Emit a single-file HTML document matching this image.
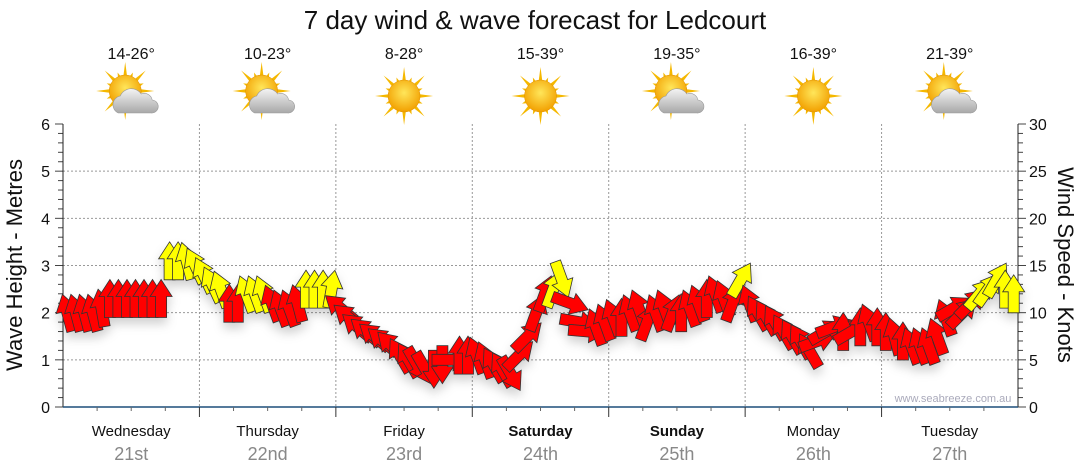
<!DOCTYPE html>
<html><head><meta charset="utf-8"><style>
body{margin:0;background:#fff;}
svg{display:block;font-family:"Liberation Sans","DejaVu Sans",sans-serif;}
</style></head><body>
<svg id="chart" width="1080" height="475" viewBox="0 0 1080 475">
<defs>
<filter id="sh" x="-20%" y="-20%" width="140%" height="160%"><feDropShadow dx="0" dy="6" stdDeviation="5" flood-color="#000" flood-opacity="0.18"/></filter>
<radialGradient id="sun" cx="50%" cy="40%" r="60%"><stop offset="0" stop-color="#ffe65a"/><stop offset="1" stop-color="#f2a000"/></radialGradient>
<linearGradient id="cloud" x1="0" y1="0" x2="0" y2="1"><stop offset="0" stop-color="#f4f4f4"/><stop offset="1" stop-color="#a8a8a8"/></linearGradient>
</defs>
<text x="535" y="29" text-anchor="middle" font-size="26" fill="#111">7 day wind &amp; wave forecast for Ledcourt</text>
<g id="grid"></g>
<g id="axes"></g>
<g id="days"></g>
<g id="arrows" filter="url(#sh)"></g>
<text x="953" y="402" text-anchor="middle" font-size="11" fill="#aab">www.seabreeze.com.au</text>
<text transform="translate(22,265) rotate(-90)" text-anchor="middle" font-size="22" fill="#111">Wave Height - Metres</text>
<text transform="translate(1058,265) rotate(90)" text-anchor="middle" font-size="22" fill="#111">Wind Speed - Knots</text>
</svg>
<script>
const dayNames=["Wednesday","Thursday","Friday","Saturday","Sunday","Monday","Tuesday"];
const dayDates=["21st","22nd","23rd","24th","25th","26th","27th"];
const dayBold=[false,false,false,true,true,false,false];
const temps=["14-26°","10-23°","8-28°","15-39°","19-35°","16-39°","21-39°"];
const cloudy=[true,true,false,false,true,false,true];
const waveTicks=[0,1,2,3,4,5,6];
const windTicks=[0,5,10,15,20,25,30];
const windSpeed=[
10,10,10,10,10.5,11.5,11.5,11.5,11.5,11.5,11.5,11.5,15.5,15.5,15.5,15,
14,13,12.5,11,11,12,12,12,11,10.5,10.5,11,12.5,12.5,12.5,12.5,
10.5,9.5,8.5,8,7.5,7,6.5,5.5,5,4.5,4,4,4.5,5,5.5,5.5,
5.5,5,4.5,4,3.5,5.5,7.5,10,12,12.5,13.5,11,9,8,8.5,9,
9.5,9.5,10,10.5,9,10,10.5,10,10,10.5,11,11.5,12,11.5,11,13.5,
11,10,9.5,9,8,7.5,7,6,7,8,8.5,8,8,8.5,9,8.5,
8,7.5,7,6.5,6.5,6.5,7.5,9.5,10.5,10,11,12,12.5,13.5,12.5,12];
const windDir=[
-15,-15,-15,-15,-10,0,0,0,0,0,0,0,0,0,-15,-25,
-25,-25,-20,0,0,-20,-20,-20,-20,-20,-20,-15,0,0,0,10,
-50,-50,-50,-50,-50,-50,-45,-30,-30,150,150,180,180,90,0,0,
-20,-20,-30,-30,150,45,45,20,20,20,160,110,100,95,-20,-20,
-20,0,-20,-20,20,-20,-20,20,0,-20,-20,0,-20,-20,20,30,
-20,-30,-30,-30,-30,-30,-30,-30,70,60,70,0,60,0,-20,0,
0,-15,0,-20,-20,-20,-20,-20,60,45,45,40,35,30,0,0];
const windCol=[
"r","r","r","r","r","r","r","r","r","r","r","r","y","y","y","y",
"y","y","y","r","r","y","y","y","r","r","r","r","y","y","y","y",
"r","r","r","r","r","r","r","r","r","r","r","r","r","r","r","r",
"r","r","r","r","r","r","r","r","r","y","y","r","r","r","r","r",
"r","r","r","r","r","r","r","r","r","r","r","r","r","r","r","y",
"r","r","r","r","r","r","r","r","r","r","r","r","r","r","r","r",
"r","r","r","r","r","r","r","r","r","r","r","y","y","y","y","y"];

const NS="http://www.w3.org/2000/svg";
const X0=63,X1=1018,Y0=407,Y1=124;
const dayW=(X1-X0)/7;
const yWave=v=>Y0-(Y0-Y1)*v/6;
const yWind=v=>Y0-(Y0-Y1)*v/30;
const xSlot=i=>X0+dayW/16*(i+0.5);
function mk(tag,attrs,parent){const e=document.createElementNS(NS,tag);for(const k in attrs)e.setAttribute(k,attrs[k]);parent.appendChild(e);return e;}
const grid=document.getElementById('grid'),axes=document.getElementById('axes'),days=document.getElementById('days'),arr=document.getElementById('arrows');

waveTicks.forEach(v=>{
 if(v>0&&v<6){const l=mk('line',{x1:X0,x2:X1,y1:yWave(v),y2:yWave(v),stroke:'#999','stroke-dasharray':'2,2','stroke-width':1},grid);
 
 }
 const t=mk('text',{x:50,y:yWave(v)+6,'text-anchor':'end','font-size':16,fill:'#111'},axes);t.textContent=v;
 
 
});
windTicks.forEach(v=>{
 const t=mk('text',{x:1029,y:yWind(v)+6,'font-size':16,fill:'#111'},axes);t.textContent=v;
 
 
});
for(let k=0;k<=30;k++){
 const y=Y0-(Y0-Y1)*k/30;const L=(k%5==0)?8:5;
 mk('line',{x1:X0-L,x2:X0,y1:y,y2:y,stroke:'#444'},axes);
 mk('line',{x1:X1,x2:X1+L,y1:y,y2:y,stroke:'#444'},axes);
}
mk('line',{x1:X0,x2:X0,y1:Y1,y2:Y0,stroke:'#222'},axes);
mk('line',{x1:X1,x2:X1,y1:Y1,y2:Y0,stroke:'#222'},axes);
mk('line',{x1:X0,x2:X1,y1:Y0,y2:Y0,stroke:'#1d4f7a','stroke-width':1.5},axes);
for(let k=1;k<7;k++){
 const x=X0+dayW*k;
 const g=mk('line',{x1:x,x2:x,y1:Y1,y2:Y0,stroke:'#999','stroke-dasharray':'2,2'},grid);
 
 
 mk('line',{x1:x,x2:x,y1:Y0,y2:Y0+10,stroke:'#333'},axes);
}
for(let k=0;k<28;k++){const x=X0+dayW/4*k;if(k%4)mk('line',{x1:x,x2:x,y1:Y0,y2:Y0+4,stroke:'#666'},axes);}

function icon(cx,cy,cl,p){
 const g=mk('g',{},p);
 const sx=cl?cx-6:cx, sy=cl?cy-5:cy;
 for(let a=0;a<16;a++){const r=a%2?20:29;const ang=a*Math.PI/8;
  const w=0.14;
  mk('polygon',{points:`${sx+Math.cos(ang-w)*14},${sy+Math.sin(ang-w)*14} ${sx+Math.cos(ang)*r},${sy+Math.sin(ang)*r} ${sx+Math.cos(ang+w)*14},${sy+Math.sin(ang+w)*14}`,fill:'#f5b800'},g);}
 mk('circle',{cx:sx,cy:sy,r:16,fill:'url(#sun)',stroke:'#e09000','stroke-width':0.5},g);
 if(cl){
  mk('path',{d:`M${cx-13},${cy+17} a9,9 0 0 1 2,-17 a12,12 0 0 1 21,-2 a8,8 0 0 1 11,6 a6.5,6.5 0 0 1 -1,13 z`,fill:'url(#cloud)',stroke:'#999','stroke-width':0.6},g);
 }
 return g;
}
dayNames.forEach((d,k)=>{
 const cx=X0+dayW*(k+0.5);
 const t=mk('text',{x:cx,y:436,'text-anchor':'middle','font-size':15,fill:'#111','font-weight':dayBold[k]?'bold':'normal'},days);t.textContent=d;
 
 
 const t2=mk('text',{x:cx,y:460,'text-anchor':'middle','font-size':18,fill:'#888'},days);t2.textContent=dayDates[k];
 
 
 const t3=mk('text',{x:cx,y:59,'text-anchor':'middle','font-size':16,fill:'#111'},days);t3.textContent=temps[k];
 
 
 const ic=icon(cx,96,cloudy[k],days);
 
 
});
windSpeed.forEach((v,i)=>{
 const x=xSlot(i),y=yWind(v);
 const a=mk('polygon',{points:'0,-19 11,-2 5.5,-2 5.5,19 -5.5,19 -5.5,-2 -11,-2',fill:windCol[i]=='y'?'#ffff00':'#ff0000',stroke:'#333','stroke-width':0.8,transform:`translate(${x.toFixed(1)},${y.toFixed(1)}) rotate(${windDir[i]})`},arr);
 
 
});
</script>
</body></html>
